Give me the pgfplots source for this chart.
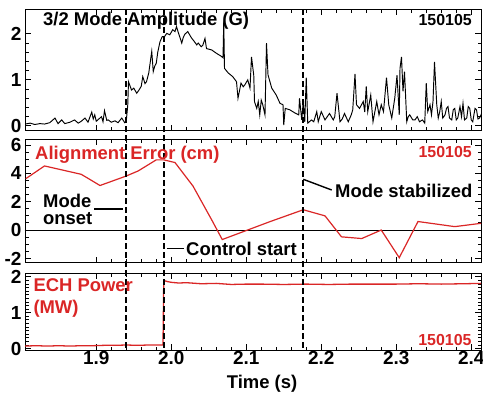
\documentclass[border=0pt]{standalone}
\usepackage{fontspec}
\setmainfont{Liberation Sans}
\usepackage{pgfplots}
\pgfplotsset{compat=1.18}
\definecolor{ered}{RGB}{218,38,38}
\newcommand\tfont{\fontsize{18.5}{20}\selectfont\bfseries}
\newcommand\nfont{\fontsize{16}{18}\selectfont\bfseries}
\pgfplotsset{
  panel/.style={
    scale only axis, width=456bp, xmin=1.805, xmax=2.413,
    axis line style={line width=1pt},
    every tick/.style={black, line width=0.9pt},
    tick align=inside,
    major tick length=6bp, minor tick length=3.5bp,
    xtick={1.9,2.0,2.1,2.2,2.3,2.4},
    minor x tick num=4,
    xticklabels={},
    ticklabel style={font=\fontsize{19}{19}\selectfont\bfseries},
    /pgf/number format/assume math mode=true,
    clip=true,
  }
}
\begin{document}
\begin{tikzpicture}
\useasboundingbox (0,0) rectangle (483bp,-397bp);
% ---------------- top panel ----------------
\begin{axis}[panel, at={(25bp,-130.5bp)}, anchor=south west, height=121.5bp,
  ymin=-0.1, ymax=2.54, ytick={0,1,2}, yticklabels={0,1,2}, minor y tick num=4]
\addplot[black, line width=0.95pt] coordinates {
(1.805,0.04)(1.812,0.06)(1.818,0.03)(1.825,0.05)(1.831,0.04)(1.838,0.07)
(1.845,0.17)(1.849,0.05)(1.854,0.13)(1.858,0.05)(1.865,0.08)(1.871,0.13)
(1.876,0.06)(1.880,0.10)(1.885,0.17)(1.889,0.08)(1.894,0.30)(1.896,0.15)
(1.898,0.24)(1.900,0.10)(1.902,0.13)(1.907,0.20)(1.909,0.09)(1.911,0.33)
(1.914,0.12)(1.916,0.13)(1.920,0.08)(1.925,0.11)(1.929,0.07)(1.934,0.17)
(1.938,0.07)(1.940,0.10)(1.942,0.45)(1.943,0.96)(1.947,0.78)(1.950,0.82)
(1.954,0.71)(1.957,0.78)(1.960,0.86)(1.962,1.07)(1.965,0.92)(1.967,0.96)
(1.970,1.15)(1.974,1.62)(1.976,1.18)(1.978,1.30)(1.980,1.36)(1.982,1.60)
(1.985,1.83)(1.988,1.94)(1.991,1.94)(1.994,2.01)(1.998,1.98)(2.002,2.09)
(2.005,2.05)(2.007,2.16)(2.009,2.05)(2.011,1.95)(2.014,1.80)(2.016,1.92)
(2.018,1.99)(2.022,2.05)(2.027,1.91)(2.030,1.85)(2.034,1.76)(2.036,1.80)
(2.040,1.72)(2.042,1.75)(2.045,1.90)(2.047,1.68)(2.054,1.65)(2.060,1.58)
(2.067,1.51)(2.069,1.48)(2.070,2.27)(2.071,1.25)(2.076,1.15)(2.082,1.07)
(2.087,0.96)(2.089,0.60)(2.093,0.93)(2.096,0.85)(2.098,0.89)(2.102,1.00)
(2.105,0.82)(2.107,1.50)(2.110,1.10)(2.111,0.53)(2.114,0.38)(2.116,0.53)
(2.118,0.24)(2.120,0.56)(2.122,0.46)(2.125,0.24)(2.127,1.80)(2.129,1.11)
(2.134,0.82)(2.140,0.67)(2.145,0.49)(2.149,0.46)(2.150,0.02)(2.152,0.38)
(2.158,0.35)(2.165,0.28)(2.170,0.24)(2.171,0.60)(2.174,0.13)(2.176,0.53)
(2.178,0.09)(2.180,1.05)(2.182,0.06)(2.187,0.13)(2.190,0.09)(2.194,0.31)
(2.196,0.09)(2.200,0.31)(2.205,0.13)(2.208,0.20)(2.211,0.27)(2.216,0.13)
(2.218,0.20)(2.221,0.71)(2.225,0.09)(2.228,0.15)(2.231,0.27)(2.236,0.09)
(2.240,0.24)(2.242,0.35)(2.245,1.13)(2.247,0.46)(2.251,0.38)(2.256,0.53)
(2.258,0.30)(2.260,0.86)(2.262,0.31)(2.266,0.67)(2.269,0.09)(2.274,0.53)
(2.277,0.24)(2.280,0.46)(2.283,0.31)(2.287,1.05)(2.290,0.46)(2.294,0.17)
(2.298,0.60)(2.301,1.10)(2.304,0.24)(2.305,1.25)(2.307,1.50)(2.309,0.75)
(2.311,1.18)(2.314,0.09)(2.316,0.20)(2.318,0.24)(2.322,0.13)(2.325,0.13)
(2.328,0.20)(2.331,0.09)(2.335,0.13)(2.338,0.06)(2.340,0.93)(2.342,0.31)
(2.345,0.46)(2.347,0.24)(2.349,0.53)(2.351,1.39)(2.354,0.46)(2.356,0.17)
(2.358,0.31)(2.360,0.53)(2.362,0.17)(2.365,0.24)(2.367,0.38)(2.369,0.42)
(2.371,0.17)(2.374,0.13)(2.376,0.35)(2.378,0.38)(2.380,0.13)(2.382,0.17)
(2.385,0.42)(2.387,0.20)(2.389,0.49)(2.391,0.13)(2.394,0.17)(2.396,0.42)
(2.398,0.38)(2.400,0.13)(2.402,0.09)(2.405,0.38)(2.407,0.35)(2.409,0.15)
(2.411,0.17)(2.415,0.31)
};
\coordinate (t1) at (axis cs:1.940,2.54);
\coordinate (t2) at (axis cs:1.990,2.54);
\coordinate (t3) at (axis cs:2.176,2.54);
\end{axis}
% ---------------- middle panel ----------------
\begin{axis}[panel, at={(25bp,-262.5bp)}, anchor=south west, height=123.5bp,
  ymin=-2.29, ymax=6.42, ytick={-2,0,2,4,6}, yticklabels={-2,0,2,4,6}, minor y tick num=3]
\draw[black, line width=0.8pt] (axis cs:1.805,0) -- (axis cs:2.413,0);
\addplot[ered, line width=1.2pt] coordinates {
(1.806,3.62)(1.831,4.52)(1.880,3.93)(1.905,3.14)(1.940,3.81)(1.956,4.17)
(1.980,4.95)(1.990,4.95)(2.005,4.76)(2.029,3.10)(2.054,0.71)(2.068,-0.67)
(2.131,0.58)(2.176,1.43)(2.205,1.00)(2.227,-0.48)(2.254,-0.60)(2.280,0.00)
(2.304,-1.95)(2.329,0.60)(2.378,0.24)(2.414,0.48)
};
\end{axis}
% ---------------- bottom panel ----------------
\begin{axis}[panel, at={(25bp,-350bp)}, anchor=south west, height=77bp,
  ymin=-0.04, ymax=2.11, ytick={0,1,2}, yticklabels={0,1,2}, minor y tick num=9,
  xticklabels={1.9,2.0,2.1,2.2,2.3,2.4},
  xticklabel style={yshift=2bp}]
\addplot[ered, line width=1.3pt] coordinates {
(1.805,0.07)(1.820,0.08)(1.835,0.07)(1.850,0.08)(1.865,0.07)(1.880,0.08)
(1.895,0.08)(1.910,0.09)(1.925,0.09)(1.940,0.10)(1.955,0.09)(1.970,0.10)
(1.989,0.10)(1.990,1.90)(1.995,1.87)(2.000,1.85)(2.010,1.83)(2.020,1.84)
(2.040,1.81)(2.060,1.82)(2.080,1.79)(2.100,1.80)(2.120,1.80)(2.150,1.79)
(2.180,1.80)(2.210,1.79)(2.240,1.80)(2.270,1.80)(2.300,1.80)(2.330,1.81)
(2.360,1.80)(2.390,1.81)(2.413,1.82)
};
\coordinate (b1) at (axis cs:1.940,-0.04);
\coordinate (b2) at (axis cs:1.990,-0.04);
\coordinate (b3) at (axis cs:2.176,-0.04);
\end{axis}
% ---------------- dashed markers ----------------
\draw[black, line width=2.2bp, dash pattern=on 6bp off 3bp] (t1) -- (b1);
\draw[black, line width=2.2bp, dash pattern=on 6bp off 3bp] (t2) -- (b2);
\draw[black, line width=2.2bp, dash pattern=on 6bp off 3bp] (t3) -- (b3);
% ---------------- annotations ----------------
\node[anchor=base west, inner sep=0, font=\tfont] at (43bp,-25bp) {3/2 Mode Amplitude (G)};
\node[anchor=base east, inner sep=0, font=\nfont] at (472bp,-25.5bp) {150105};
\node[anchor=base west, inner sep=0, font=\tfont, text=ered] at (35bp,-159bp) {Alignment Error (cm)};
\node[anchor=base east, inner sep=0, font=\nfont, text=ered] at (472bp,-157.5bp) {150105};
\node[anchor=base west, inner sep=0, font=\tfont] at (43bp,-207.3bp) {Mode};
\node[anchor=base west, inner sep=0, font=\tfont] at (43bp,-224.3bp) {onset};
\draw[line width=1.4bp] (94bp,-209bp) -- (123bp,-209bp);
\draw[line width=1.4bp] (166.5bp,-248.3bp) -- (183.5bp,-248.3bp);
\node[anchor=base west, inner sep=0, font=\tfont] at (186bp,-255bp) {Control start};
\draw[line width=1.4bp] (303.3bp,-179.3bp) -- (331.7bp,-190bp);
\node[anchor=base west, inner sep=0, font=\tfont] at (335bp,-197.7bp) {Mode stabilized};
\node[anchor=base west, inner sep=0, font=\tfont, text=ered] at (33.3bp,-291.7bp) {ECH Power};
\node[anchor=base west, inner sep=0, font=\tfont, text=ered] at (33.3bp,-313.3bp) {(MW)};
\node[anchor=base east, inner sep=0, font=\nfont, text=ered] at (471.7bp,-345bp) {150105};
\node[inner sep=0, font=\tfont] at (262bp,-384bp) {Time (s)};
\end{tikzpicture}
\end{document}
